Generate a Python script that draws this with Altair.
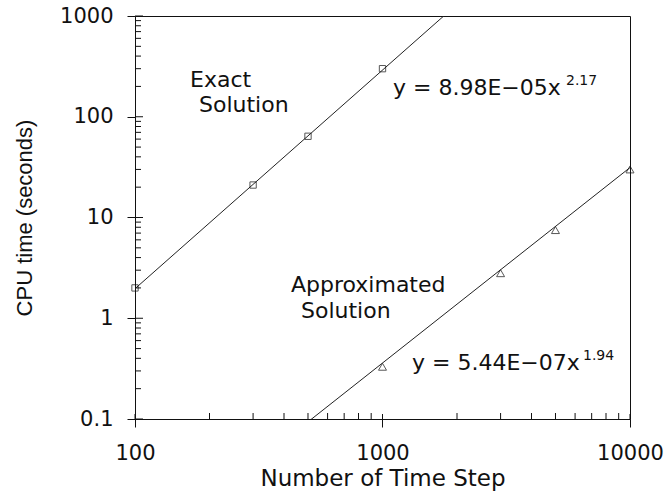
import altair as alt
import pandas as pd

# Measured CPU time against number of time steps
exact_steps = [100, 300, 500, 1000]
exact_cpu = [2.0, 21.0, 64.0, 300.0]
approx_steps = [1000, 3000, 5000, 10000]
approx_cpu = [0.33, 2.8, 7.5, 30.0]

# Power-law fits  y = a * x^b
exact_fit = {"a": 8.98e-05, "b": 2.17}
approx_fit = {"a": 5.44e-07, "b": 1.94}
exact_fit_range = [100, 2000]
approx_fit_range = [400, 10000]

# Axis tick values
x_major = [100, 1000, 10000]
x_minor = [k * 10 ** e for e in (2, 3) for k in range(2, 10)]
y_major = [0.1, 1, 10, 100, 1000]
y_minor = [k * 10.0 ** e for e in (-1, 0, 1, 2) for k in range(2, 10)]

W, H = 495, 403
FONT = "DejaVu Sans"
INK = "#111111"

xscale = alt.Scale(type="log", domain=[100, 10000], nice=False)
yscale = alt.Scale(type="log", domain=[0.1, 1000], nice=False)

x_axis = alt.Axis(
    values=x_major, format="d", grid=False, tickSize=8, tickColor=INK,
    domainColor=INK, labelFont=FONT, labelFontSize=21, labelColor=INK,
    labelPadding=15, labelBaseline="top", labelFlush=False,
    title="Number of Time Step", titleFont=FONT, titleFontSize=23,
    titleFontWeight="normal", titleColor=INK, titleY=66,
    titleBaseline="alphabetic",
)
y_axis = alt.Axis(
    values=y_major, format="~g", grid=False, tickSize=8, tickColor=INK,
    domainColor=INK, labelFont=FONT, labelFontSize=21, labelColor=INK,
    labelPadding=14, labelFlush=False,
    title="CPU time (seconds)", titleFont="Liberation Sans", titleFontSize=22,
    titleFontWeight="normal", titleColor=INK, titleAngle=-90,
    titleX=-111, titleY=H / 2, titleAlign="center", titleBaseline="middle",
)


def X(field="x"):
    return alt.X(f"{field}:Q", scale=xscale, axis=x_axis)


def Y(field="y"):
    return alt.Y(f"{field}:Q", scale=yscale, axis=y_axis)


exact_df = pd.DataFrame({"x": exact_steps, "y": exact_cpu})
approx_df = pd.DataFrame({"x": approx_steps, "y": approx_cpu})

exact_pts = alt.Chart(exact_df).mark_point(
    shape="square", size=40, filled=False, stroke=INK, strokeWidth=1
).encode(x=X(), y=Y())

approx_pts = alt.Chart(approx_df).mark_point(
    shape="triangle-up", size=64, filled=False, stroke=INK, strokeWidth=1
).encode(x=X(), y=Y())


def fit_line(xs, fit):
    return alt.Chart(pd.DataFrame({"x": xs})).transform_calculate(
        y=f"{fit['a']} * pow(datum.x, {fit['b']})"
    ).mark_line(color="#222222", strokeWidth=1, clip=True).encode(x=X(), y=Y())


exact_line = fit_line(exact_fit_range, exact_fit)
approx_line = fit_line(approx_fit_range, approx_fit)


# Inward tick marks along the left and bottom axes
def y_ticks(vals, length):
    return alt.Chart(pd.DataFrame({"y": vals})).mark_rule(
        color=INK, strokeWidth=1
    ).encode(y=Y(), x=alt.value(0), x2=alt.value(length))


def x_ticks(vals, length):
    return alt.Chart(pd.DataFrame({"x": vals})).mark_rule(
        color=INK, strokeWidth=1
    ).encode(x=X(), y=alt.value(H), y2=alt.value(H - length))


ticks = [
    y_ticks(y_major, 8), y_ticks(y_minor, 6),
    x_ticks(x_major, 5), x_ticks(x_minor, 6),
]


def label(text, px, py, size=22):
    return alt.Chart(pd.DataFrame({"t": [text]})).mark_text(
        font=FONT, fontSize=size, color=INK, align="left", baseline="alphabetic"
    ).encode(text="t:N", x=alt.value(px), y=alt.value(py))


labels = [
    label("Exact", 55, 71),
    label("Solution", 64, 96),
    label("Approximated", 156, 276),
    label("Solution", 166, 302),
    label("y = 8.98E−05x", 258, 79),
    label(str(exact_fit["b"]), 431, 69, 14),
    label("y = 5.44E−07x", 277, 354),
    label(str(approx_fit["b"]), 448, 344, 14),
]

chart = alt.layer(
    exact_line, approx_line, *ticks, exact_pts, approx_pts, *labels
).properties(
    width=W, height=H, autosize="none",
    padding={"left": 135, "top": 16, "right": 38, "bottom": 73},
    background="white",
).configure_view(stroke=INK, strokeWidth=1)

chart.save("out.html", embed_options={"renderer": "svg", "actions": False})
